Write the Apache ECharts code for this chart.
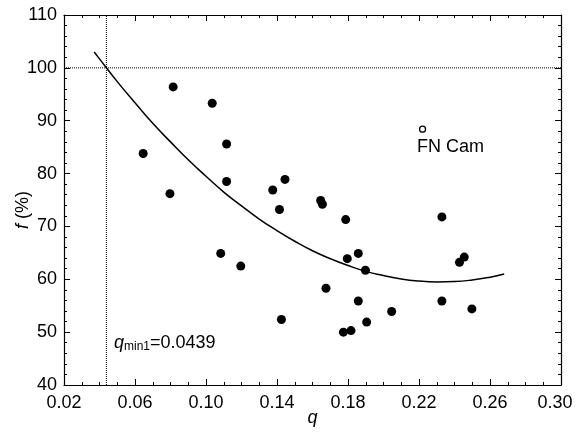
<!DOCTYPE html>
<html><head><meta charset="utf-8">
<script src="https://cdn.jsdelivr.net/npm/echarts@6/dist/echarts.min.js"></script>
<style>html,body{margin:0;padding:0;background:#fff}#c{width:576px;height:432px}</style>
</head><body><div id="c"></div>
<script>
// Observed systems (filled circles)
const qValues = [0.0646, 0.0797, 0.0815, 0.1035, 0.1083, 0.1116, 0.1116, 0.1196, 0.1376, 0.1414,
                 0.1425, 0.1445, 0.1646, 0.1656, 0.1676, 0.1787, 0.1796, 0.1774, 0.1817, 0.1858,
                 0.1858, 0.1898, 0.1905, 0.2046, 0.2329, 0.2329, 0.2428, 0.2455, 0.2498];
const fValues = [83.8, 76.2, 96.4, 93.3, 64.9, 85.6, 78.5, 62.5, 76.9, 73.2,
                 52.4, 78.9, 74.9, 74.2, 58.3, 71.3, 63.9, 50.0, 50.3, 64.9,
                 55.9, 61.7, 51.9, 53.9, 71.8, 55.9, 63.2, 64.2, 54.4];
// FN Cam (open circle)
const fnCamQ = [0.222];
const fnCamF = [88.4];
const fnCamName = 'FN Cam';
// Fitted curve
const fitQ = [0.037, 0.04, 0.05, 0.06, 0.07, 0.08, 0.09, 0.10, 0.11, 0.12, 0.13, 0.14, 0.15,
              0.16, 0.17, 0.18, 0.19, 0.20, 0.21, 0.22, 0.23, 0.24, 0.25, 0.26, 0.268];
const fitF = [103.0, 101.7, 97.4, 93.4, 89.5, 86.0, 82.6, 79.5, 76.5, 73.9, 71.4, 69.2, 67.2,
              65.4, 63.9, 62.6, 61.5, 60.7, 60.05, 59.66, 59.5, 59.57, 59.87, 60.4, 61.0];
// Reference lines
const qMin1 = 0.0439;
const fRef = 100;
// Axes
const xMin = 0.02, xMax = 0.30, xStep = 0.04;
const yMin = 40, yMax = 110, yStep = 10;
const xTitle = 'q', yTitleItalic = 'f', yTitleRest = ' (%)';

const FONT = "'Liberation Sans', Arial, sans-serif";
const pair = (a, b) => a.map((v, i) => [v, b[i]]);

const tickCommon = { inside: true, length: 6, lineStyle: { color: '#000', width: 1 } };
const minorCommon = { show: true, length: 3, lineStyle: { color: '#000', width: 1 } };
const lineCommon = { show: true, onZero: false, lineStyle: { color: '#000', width: 1.2 } };
const labelCommon = { color: '#000', fontSize: 18, fontFamily: FONT };

const chart = echarts.init(document.getElementById('c'), null, { renderer: 'canvas' });
chart.setOption({
  backgroundColor: '#fff',
  animation: false,
  grid: { left: 64, right: 15, top: 15, bottom: 47, containLabel: false, outerBoundsMode: 'none' },
  xAxis: [{
    type: 'value', min: xMin, max: xMax, interval: xStep, position: 'bottom',
    axisLine: lineCommon, axisTick: tickCommon,
    minorTick: Object.assign({ splitNumber: 4 }, minorCommon),
    splitLine: { show: false },
    axisLabel: Object.assign({
      margin: 9,
      formatter: v => Math.abs(v - xMax) < 1e-9 ? '{r|' + v.toFixed(2) + '}' : v.toFixed(2),
      rich: { r: { color: '#000', fontSize: 18, fontFamily: FONT, padding: [0, 12, 0, 0] } }
    }, labelCommon),
    name: '{i|' + xTitle + '}', nameLocation: 'middle', nameGap: 24, nameMoveOverlap: false,
    nameTextStyle: { rich: { i: { fontStyle: 'italic', fontSize: 18, fontFamily: FONT, color: '#000' } } }
  }, {
    type: 'value', min: xMin, max: xMax, interval: xStep, position: 'top',
    axisLine: lineCommon, axisTick: tickCommon,
    minorTick: Object.assign({ splitNumber: 4 }, minorCommon),
    splitLine: { show: false }, axisLabel: { show: false }
  }],
  yAxis: [{
    type: 'value', min: yMin, max: yMax, interval: yStep, position: 'left',
    axisLine: lineCommon, axisTick: tickCommon,
    minorTick: Object.assign({ splitNumber: 5 }, minorCommon),
    splitLine: { show: false },
    axisLabel: Object.assign({ margin: 7 }, labelCommon)
  }, {
    type: 'value', min: yMin, max: yMax, interval: yStep, position: 'right',
    axisLine: lineCommon, axisTick: tickCommon,
    minorTick: Object.assign({ splitNumber: 5 }, minorCommon),
    splitLine: { show: false }, axisLabel: { show: false }
  }],
  series: [{
    type: 'line', data: [[xMin, fRef], [xMax, fRef]], symbol: 'none', silent: true,
    lineStyle: { color: '#000', width: 1, type: [1, 1] }, z: 1
  }, {
    type: 'line', data: [[qMin1, yMin], [qMin1, yMax]], symbol: 'none', silent: true,
    lineStyle: { color: '#000', width: 1, type: [1, 1] }, z: 1
  }, {
    type: 'line', data: pair(fitQ, fitF), symbol: 'none', smooth: true,
    lineStyle: { color: '#000', width: 1.5 }, z: 2
  }, {
    type: 'scatter', data: pair(qValues, fValues), symbol: 'circle', symbolSize: 9,
    itemStyle: { color: '#000', opacity: 1 }, z: 3
  }, {
    type: 'scatter', data: pair(fnCamQ, fnCamF), symbol: 'circle', symbolSize: 6,
    itemStyle: { color: '#fff', borderColor: '#000', borderWidth: 1.3, opacity: 1 }, z: 3,
    label: { show: true, formatter: fnCamName, position: 'bottom', distance: 5,
      offset: [28, 0], color: '#000', opacity: 1, fontSize: 18, fontFamily: FONT }
  }],
  graphic: [{
    type: 'text', left: 114, top: 334,
    style: {
      text: '{i|q}{s|min1}{n|=0.0439}',
      rich: {
        i: { fontStyle: 'italic', fontSize: 18, fontFamily: FONT, fill: '#000' },
        s: { fontSize: 12, fontFamily: FONT, fill: '#000', padding: [8, 0, 0, 0] },
        n: { fontSize: 18, fontFamily: FONT, fill: '#000' }
      }
    }
  }, {
    type: 'text', x: 23, y: 210, rotation: Math.PI / 2,
    style: {
      text: '{i|' + yTitleItalic + '}{n|' + yTitleRest + '}',
      align: 'center', verticalAlign: 'middle',
      rich: {
        i: { fontStyle: 'italic', fontSize: 18, fontFamily: FONT, fill: '#000' },
        n: { fontSize: 18, fontFamily: FONT, fill: '#000' }
      }
    }
  }]
});
</script></body></html>
